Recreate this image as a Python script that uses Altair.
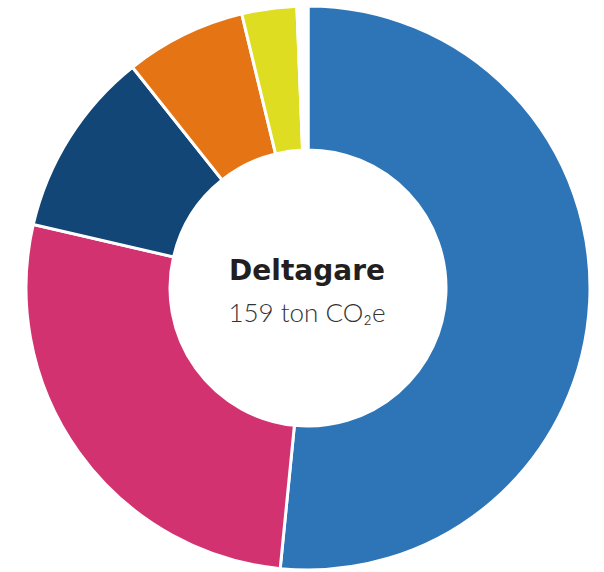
import altair as alt
import pandas as pd

categories = ["Kategori 1", "Kategori 2", "Kategori 3", "Kategori 4", "Kategori 5", "Övrigt"]
values = [82, 43, 17, 11, 5, 1]
colors = ["#2E75B7", "#D33270", "#114677", "#E57514", "#DEDD22", "#FFFFFF"]
title_text = "Deltagare"
subtitle_text = "159 ton CO₂e"

df = pd.DataFrame({"kategori": categories, "varde": values, "ordning": list(range(len(categories)))})

arcs = alt.Chart(df).mark_arc(outerRadius=282, innerRadius=138, stroke="white", strokeWidth=3).encode(
    theta=alt.Theta("varde:Q", stack=True),
    order=alt.Order("ordning:Q"),
    color=alt.Color("kategori:N", scale=alt.Scale(domain=categories, range=colors), legend=None),
    x=alt.value(308),
    y=alt.value(288),
)

t1 = alt.Chart(pd.DataFrame({"t": [title_text]})).mark_text(
    font="DejaVu Sans", fontWeight="bold", fontSize=28, color="#231f20", align="center", baseline="alphabetic"
).encode(text="t:N", x=alt.value(307), y=alt.value(280))

t2 = alt.Chart(pd.DataFrame({"t": [subtitle_text]})).mark_text(
    font="Lato", fontWeight=300, fontSize=26, color="#333333", align="center", baseline="alphabetic"
).encode(text="t:N", x=alt.value(307), y=alt.value(322))

chart = alt.layer(arcs, t1, t2).properties(
    width=604, height=572, autosize=alt.AutoSizeParams(type="none"), padding=0
).configure_view(stroke=None)

chart.save("out.html", embed_options={"renderer": "svg", "actions": False})
